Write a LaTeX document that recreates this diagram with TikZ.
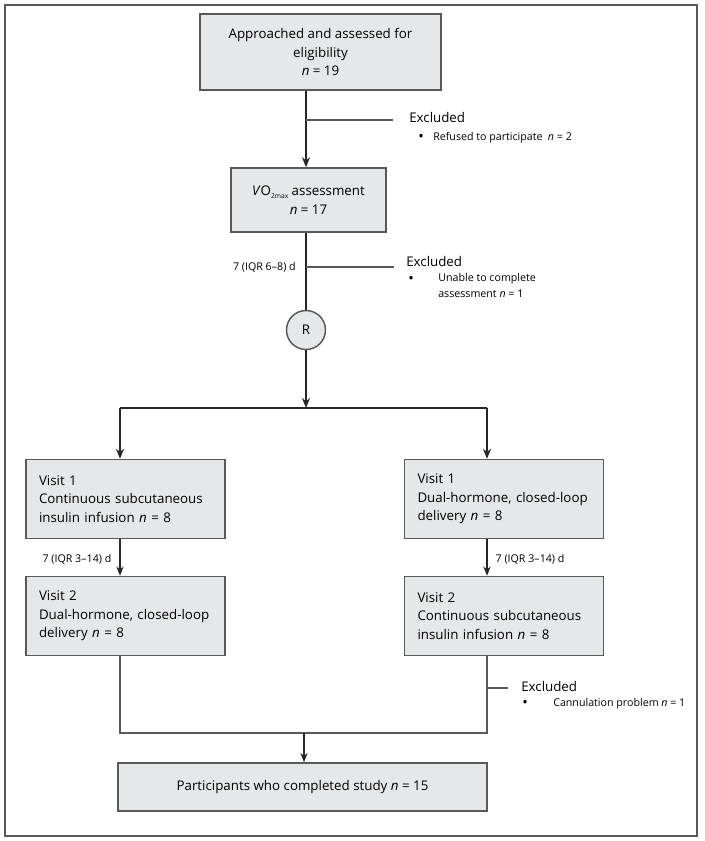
\documentclass[tikz,border=0pt]{standalone}
\usepackage{fontspec}
\setmainfont{Open Sans}
\usetikzlibrary{arrows.meta}

\definecolor{boxFill}{HTML}{E6E7E8}
\definecolor{boxLine}{HTML}{58595B}
\definecolor{thinLine}{HTML}{58595B}

\begin{document}
\begin{tikzpicture}[x=0.75pt, y=-0.75pt,
		flowBox/.style={draw=boxLine, fill=boxFill, line width=1.1pt, inner sep=0pt, font=\boxFont},
		visitBox/.style={flowBox, minimum width=199*\pxl, minimum height=79*\pxl, text width=173*\pxl, align=left},
		mainLine/.style={draw=black!85, line width=1.4pt},
		mainArrow/.style={mainLine, -{Stealth[length=7.5pt, width=6pt]}},
		thinArrow/.style={draw=black!85, line width=1pt, -{Stealth[length=7pt, width=5.5pt]}},
		exLine/.style={draw=thinLine, line width=0.8pt},
		exText/.style={anchor=west, inner sep=0pt}]
	\def\pxl{0.75pt}
	\def\boxFont{\fontsize{10}{13.9}\selectfont}
	\def\smallFont{\fontsize{8}{12}\selectfont}
	\def\dotFont{\fontsize{11}{11}\selectfont}
	\def\trunkX{306}
	\def\splitY{408}
	\def\joinY{733}

	\useasboundingbox (0,0) rectangle (704,841);
	\draw[draw=thinLine, line width=0.8pt] (5,5) rectangle (697,836); %outer frame

	%boxes
	\node[flowBox, minimum width=241*\pxl, minimum height=76*\pxl, align=center] (eligBox) at (320.5,52) {Approached and assessed for\\eligibility\\\textit{n} = 19};
	\node[flowBox, minimum width=155*\pxl, minimum height=64*\pxl, align=center] (vo2Box) at (308.5,200) {\textit{V}O\raisebox{-0.45ex}{\fontsize{5}{5}\selectfont 2max} assessment\\\textit{n} = 17};
	\node[circle, draw=boxLine, fill=boxFill, line width=1.1pt, minimum size=39*\pxl, inner sep=0pt, font=\boxFont] (randNode) at (\trunkX,330) {R};

	\node[visitBox] (visitOneA) at (125.5,499) {Visit 1\\Continuous subcutaneous\\insulin infusion \textit{n} = 8};
	\node[visitBox] (visitOneB) at (504,499) {Visit 1\\Dual-hormone, closed-loop\\delivery \textit{n} = 8};
	\node[visitBox] (visitTwoA) at (125.5,616) {Visit 2\\Dual-hormone, closed-loop\\delivery \textit{n} = 8};
	\node[visitBox] (visitTwoB) at (504,616) {Visit 2\\Continuous subcutaneous\\insulin infusion \textit{n} = 8};

	\node[flowBox, minimum width=369*\pxl, minimum height=48*\pxl] (doneBox) at (302.5,787) {Participants who completed study \textit{n} = 15};

	%split and join points
	\coordinate (splitMid) at (\trunkX,\splitY);
	\coordinate (splitA) at (120,\splitY);
	\coordinate (splitB) at (487,\splitY);
	\coordinate (joinA) at (120,\joinY);
	\coordinate (joinB) at (487,\joinY);
	\coordinate (joinMid) at (304,\joinY);

	%trunk
	\draw[mainArrow] (eligBox.south -| randNode) -- (vo2Box.north -| randNode);
	\draw[mainLine] (vo2Box.south -| randNode) -- (randNode);
	\draw[mainArrow] (randNode) -- (splitMid);
	\draw[mainLine] (splitA) -- (splitB);
	\draw[mainArrow] (splitA) -- (visitOneA.north -| splitA);
	\draw[mainArrow] (splitB) -- (visitOneB.north -| splitB);

	%between visits
	\draw[thinArrow] (visitOneA.south -| splitA) -- (visitTwoA.north -| splitA) node[pos=0.55, left=6pt, inner sep=0pt, font=\smallFont] (gapA) {7 (IQR 3--14) d};
	\draw[thinArrow] (visitOneB.south -| splitB) -- (visitTwoB.north -| splitB) node[pos=0.55, right=6pt, inner sep=0pt, font=\smallFont] (gapB) {7 (IQR 3--14) d};

	%join
	\draw[exLine] (visitTwoA.south -| joinA) -- (joinA) -- (joinB) -- (visitTwoB.south -| joinB);
	\draw[thinArrow] (joinMid) -- (doneBox.north -| joinMid);

	%exclusions
	\coordinate (exOne) at (393,120);
	\coordinate (exTwo) at (394,267);
	\coordinate (exThree) at (508,688);
	\draw[exLine] (exOne -| randNode) -- (exOne);
	\draw[exLine] (exTwo -| randNode) -- (exTwo);
	\draw[exLine] (exThree -| joinB) -- (exThree);

	\node[anchor=east, inner sep=0pt, font=\smallFont] (gapTop) at (296,267) {7 (IQR 6--8) d};

	\node[exText, font=\boxFont] (exOneHead) at (409,118) {Excluded};
	\node[exText, font=\dotFont] (exOneDot) at (418,138) {•};
	\node[exText, font=\smallFont] (exOneItem) at (433,138) {Refused to participate\enspace\textit{n} = 2};

	\node[exText, font=\boxFont] (exTwoHead) at (406,262) {Excluded};
	\node[exText, font=\dotFont] (exTwoDot) at (408,280) {•};
	\node[exText, font=\smallFont, align=left, anchor=north west] (exTwoItem) at (438,273) {Unable to complete\\assessment \textit{n} = 1};

	\node[exText, font=\boxFont] (exThreeHead) at (521,686) {Excluded};
	\node[exText, font=\dotFont] (exThreeDot) at (522,704) {•};
	\node[exText, font=\smallFont] (exThreeItem) at (553,704) {Cannulation problem \textit{n} = 1};
\end{tikzpicture}
\end{document}
